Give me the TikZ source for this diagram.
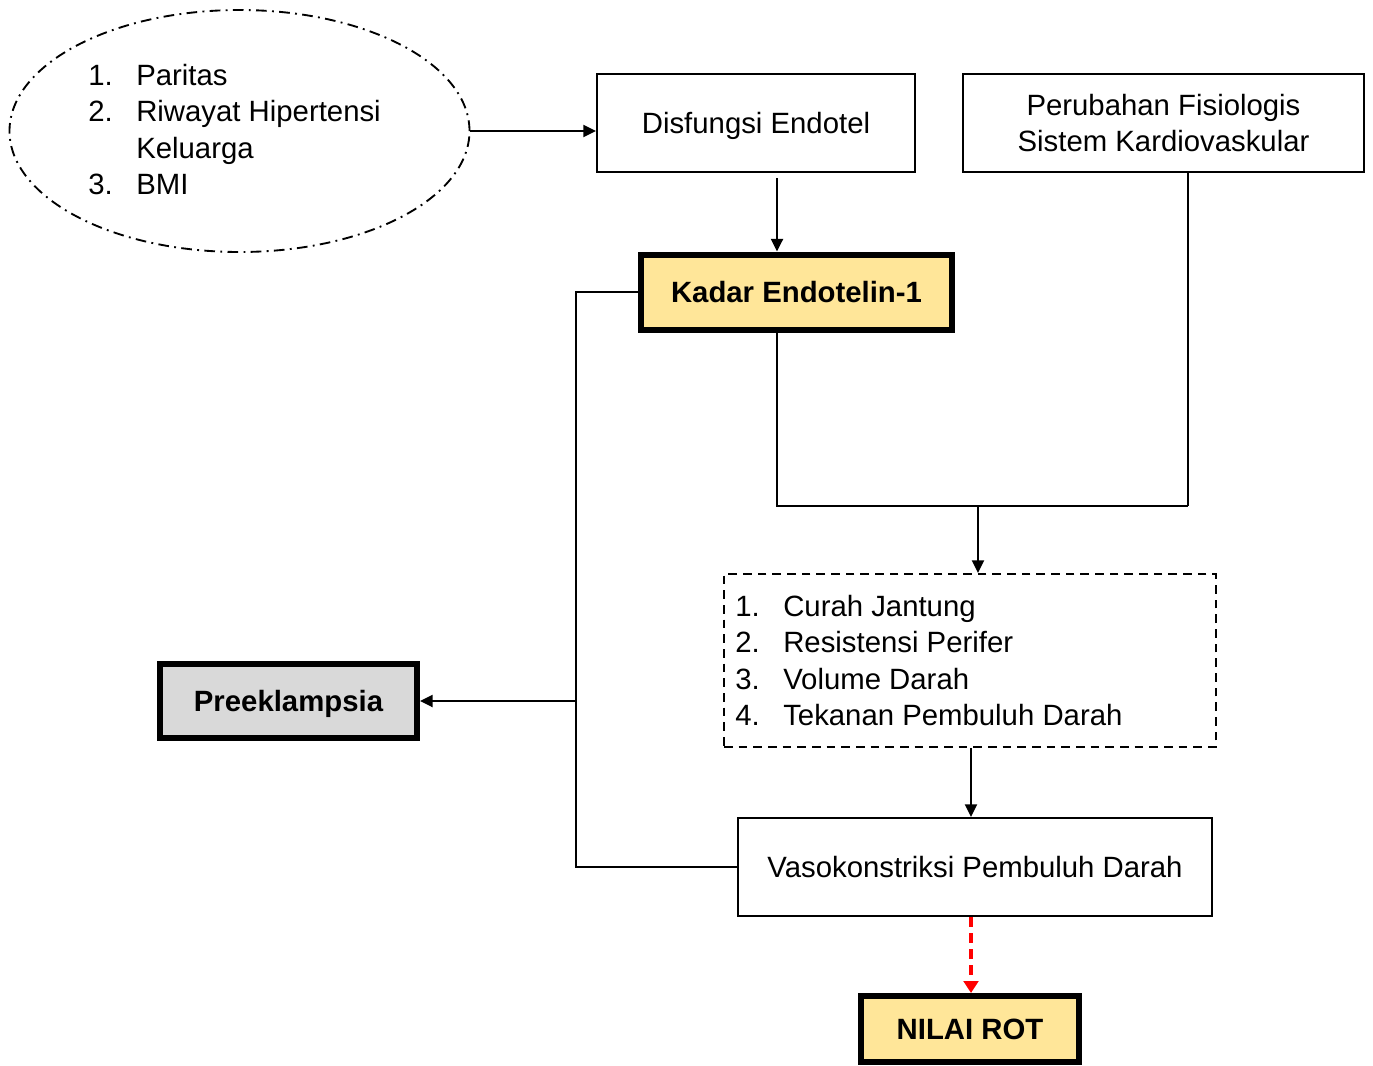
\documentclass[tikz,border=0pt]{standalone}
\usepackage{fontspec}
\setmainfont{Liberation Sans}
\usepackage{tikz}
\usetikzlibrary{shapes.geometric,arrows.meta,positioning,calc}
\definecolor{kuning}{HTML}{FFE699}
\definecolor{abu}{HTML}{D9D9D9}

\begin{document}
\begin{tikzpicture}[x=0.75pt,y=-0.75pt,>={Triangle[length=9.5pt,width=9pt]},line join=miter,
    font=\fontsize{22}{27.3}\selectfont,
    kotak/.style={draw,line width=1.6pt,inner sep=0pt,align=center},
    tebal/.style={draw,line width=4.5pt,inner sep=0pt,text depth=0pt,font=\fontsize{22}{27.3}\selectfont\bfseries},
    garis/.style={line width=1.7pt},
    daftar/.style={anchor=west,align=left,inner sep=0pt}]
  \useasboundingbox (0,0) rectangle (1373,1065);
  % faktor risiko
  \node[ellipse,draw,line width=1.4pt,dash pattern=on 8pt off 4pt on 1.4pt off 4pt,
        minimum width=345pt,minimum height=181.5pt] (fak) at (239.5,131) {};
  \node[daftar] (fakt) at (88,129.5) {\makebox[36pt][l]{1.}Paritas\\
      \makebox[36pt][l]{2.}Riwayat Hipertensi\\
      \makebox[36pt][l]{}Keluarga\\
      \makebox[36pt][l]{3.}BMI};
  % kotak atas
  \node[kotak,text depth=0pt,minimum width=238.5pt,minimum height=73.5pt] (dis) at (756,123) {Disfungsi Endotel};
  \node[kotak,minimum width=300.75pt,minimum height=73.5pt] (per) at (1163.5,123) {Perubahan Fisiologis\\Sistem Kardiovaskular};
  \node[tebal,fill=kuning,minimum width=233.25pt,minimum height=56.25pt] (kad) at (796.5,292) {Kadar Endotelin-1};
  % kotak tengah dan bawah
  \node[draw,line width=1.6pt,dash pattern=on 6.5pt off 4.5pt,minimum width=369pt,minimum height=129.75pt] (hem) at (970,660.5) {};
  \node[daftar] (hemt) at (735,660.5) {\makebox[36pt][l]{1.}Curah Jantung\\
      \makebox[36pt][l]{2.}Resistensi Perifer\\
      \makebox[36pt][l]{3.}Volume Darah\\
      \makebox[36pt][l]{4.}Tekanan Pembuluh Darah};
  \node[kotak,text depth=0pt,minimum width=355.5pt,minimum height=73.5pt] (vas) at (975,867) {Vasokonstriksi Pembuluh Darah};
  \node[tebal,fill=abu,minimum width=192.75pt,minimum height=55.5pt] (pre) at (288.5,701) {Preeklampsia};
  \node[tebal,fill=kuning,minimum width=163.5pt,minimum height=49.5pt] (rot) at (970,1029) {NILAI ROT};
  % titik bantu
  \coordinate (a1) at (777,0);
  \coordinate (a2) at (1188,0);
  \coordinate (a3) at (978,506);
  \coordinate (a4) at (971,0);
  \coordinate (kiri) at (576,0);
  % panah
  \draw[garis,->] (fak.east) -- (fak.east -| dis.west);
  \draw[garis,->] ($(a1 |- dis.south)+(0,5)$) -- (a1 |- kad.north);
  \draw[garis] (a1 |- kad.south) -- (a1 |- a3) -- (a2 |- a3);
  \draw[garis] (a2 |- per.south) -- (a2 |- a3);
  \draw[garis,->] (a3) -- (a3 |- hem.north);
  \draw[garis,->] (a4 |- hem.south) -- (a4 |- vas.north);
  \draw[line width=3pt,red,dash pattern=on 7.5pt off 4.5pt,-{Triangle[length=9pt,width=11pt]}] (a4 |- vas.south) -- (a4 |- rot.north);
  \draw[garis] (kad.west) -- (kiri |- kad.west) -- (kiri |- vas.west) -- (vas.west);
  \draw[garis,->] (kiri |- pre.east) -- (pre.east);
\end{tikzpicture}
\end{document}
